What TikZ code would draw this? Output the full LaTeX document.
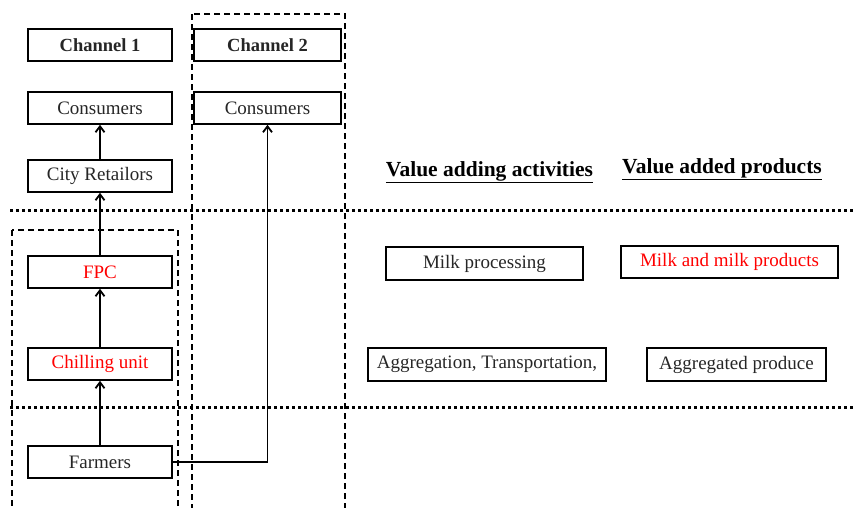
\documentclass[tikz,border=0pt]{standalone}
\usepackage{fontspec}
\setmainfont{Liberation Serif}
\usetikzlibrary{arrows.meta}
\definecolor{txtred}{RGB}{255,0,0}
\begin{document}
\begin{tikzpicture}[x=1pt,y=-1pt,
  box/.style={draw=black,line width=1.6pt,minimum height=32pt,inner sep=0pt,
    font=\fontsize{19}{21}\selectfont,text=black!85},
  chbox/.style={box,font=\fontsize{18.5}{21}\selectfont\bfseries},
  redtxt/.style={text=txtred},
  head/.style={inner sep=0pt,font=\fontsize{21.5}{23}\selectfont\bfseries},
  flow/.style={line width=1.8pt,-{Straight Barb[length=6pt,width=9pt]}},
  dots/.style={line width=3pt,dash pattern=on 3pt off 3pt},
  dashbox/.style={line width=1.4pt,dash pattern=on 6pt off 4pt}]
\useasboundingbox (0,0) rectangle (856,507);
% dashed group boxes
\draw[dashbox] (192,14) rectangle (345,515);
\draw[dashbox] (12,230) rectangle (178,515);
% dotted separators
\draw[dots] (10,210) -- (856,210);
\draw[dots] (10,407) -- (856,407);
% channel 1
\node[chbox,minimum width=144pt,fill=white] (ch1) at (100,45) {Channel 1};
\node[box,minimum width=144pt,fill=white] (con1) at (100,108) {Consumers};
\node[box,minimum width=144pt,fill=white] (city) at (100,176) {City Retailors};
\node[box,minimum width=144pt,fill=white,redtxt] (fpc) at (100,272) {FPC};
\node[box,minimum width=144pt,fill=white,redtxt] (chill) at (100,364) {Chilling unit};
\node[box,minimum width=144pt,fill=white] (farm) at (100,462) {Farmers};
% channel 2
\node[chbox,minimum width=147pt,fill=white] (ch2) at (267.5,45) {Channel 2};
\node[box,minimum width=147pt,fill=white] (con2) at (267.5,108) {Consumers};
% right side
\node[head] (hva) at (489.5,172) {\underline{Value adding activities}};
\node[head] (hvp) at (722,169) {\underline{Value added products}};
\node[box,minimum width=197pt,minimum height=33pt] (mp) at (484.5,263.5) {Milk processing};
\node[box,minimum width=217pt,redtxt] (mmp) at (729.5,262) {Milk and milk products};
\node[box,minimum width=238pt,minimum height=33pt] (agg) at (487,364.5) {Aggregation, Transportation,};
\node[box,minimum width=179pt,minimum height=33pt] (aggp) at (736.5,364.5) {Aggregated produce};
% flows
\draw[flow] (city.north) -- (con1.south);
\draw[flow] (fpc.north) -- (city.south);
\draw[flow] (chill.north) -- (fpc.south);
\draw[flow] (farm.north) -- (chill.south);
\draw[flow] (farm.east) -| (con2.south);
\end{tikzpicture}
\end{document}
